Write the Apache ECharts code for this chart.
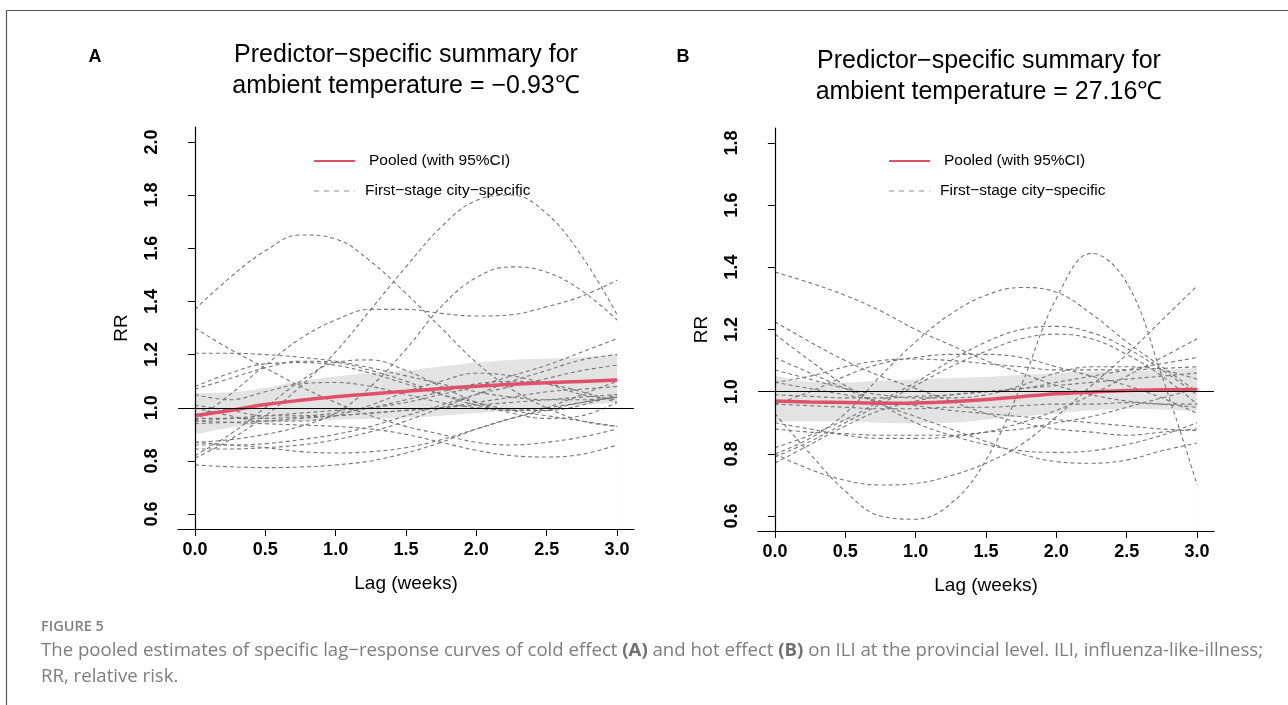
<!DOCTYPE html>
<html>
<head>
<meta charset="utf-8">
<script src="https://cdn.jsdelivr.net/npm/echarts@6/dist/echarts.min.js"></script>
<style>
html,body{margin:0;padding:0;background:#fff;}
#c{width:1288px;height:705px;}
</style>
</head>
<body>
<div id="c"></div>
<script>
// ---------- data ----------
const lags = [0, 0.25, 0.5, 0.75, 1, 1.25, 1.5, 1.75, 2, 2.25, 2.5, 2.75, 3];
const xTicks = [0, 0.5, 1, 1.5, 2, 2.5, 3];
const yTicksA = [0.6, 0.8, 1.0, 1.2, 1.4, 1.6, 1.8, 2.0];
const yTicksB = [0.6, 0.8, 1.0, 1.2, 1.4, 1.6, 1.8];

// Panel A (cold effect): pooled curve and 95% CI
const pooledA = [0.971, 0.99, 1.012, 1.028, 1.041, 1.052, 1.062, 1.072, 1.081, 1.088, 1.094, 1.099, 1.104];
const lowerA  = [0.900, 0.925, 0.942, 0.950, 0.955, 0.958, 0.962, 0.970, 0.980, 0.990, 1.000, 1.010, 1.020];
const upperA  = [1.055, 1.058, 1.075, 1.100, 1.118, 1.130, 1.140, 1.155, 1.170, 1.180, 1.185, 1.190, 1.200];

// Panel A first-stage city-specific curves
const a01 = [1.37, 1.49, 1.59, 1.65, 1.635, 1.55, 1.43, 1.30, 1.17, 1.07, 1.00, 0.95, 0.93];
const a02 = [0.81, 0.88, 0.97, 1.08, 1.21, 1.37, 1.53, 1.68, 1.78, 1.80, 1.73, 1.57, 1.35];
const a03 = [0.87, 0.88, 0.90, 0.93, 0.98, 1.08, 1.22, 1.38, 1.49, 1.53, 1.51, 1.44, 1.33];
const a04 = [0.95, 1.05, 1.16, 1.26, 1.33, 1.37, 1.37, 1.355, 1.345, 1.35, 1.38, 1.42, 1.48];
const a05 = [1.30, 1.22, 1.15, 1.08, 1.02, 0.97, 0.93, 0.90, 0.87, 0.86, 0.87, 0.89, 0.92];
const a06 = [1.205, 1.205, 1.20, 1.19, 1.175, 1.15, 1.12, 1.09, 1.06, 1.04, 1.03, 1.03, 1.04];
const a07 = [1.07, 1.11, 1.15, 1.175, 1.17, 1.14, 1.10, 1.05, 1.01, 0.99, 0.99, 1.01, 1.05];
const a08 = [1.08, 1.13, 1.165, 1.17, 1.16, 1.13, 1.09, 1.05, 1.02, 0.99, 0.97, 0.95, 0.93];
const a09 = [1.05, 1.03, 1.06, 1.09, 1.095, 1.08, 1.05, 1.02, 1.00, 0.99, 1.00, 1.02, 1.04];
const a10 = [0.95, 0.96, 0.97, 0.98, 0.99, 1.00, 1.02, 1.05, 1.08, 1.12, 1.16, 1.21, 1.26];
const a11 = [0.86, 0.86, 0.865, 0.88, 0.90, 0.93, 0.97, 1.01, 1.05, 1.08, 1.11, 1.14, 1.16];
const a12 = [0.845, 0.845, 0.85, 0.86, 0.88, 0.91, 0.95, 1.00, 1.05, 1.10, 1.14, 1.18, 1.20];
const a13 = [0.785, 0.778, 0.775, 0.777, 0.785, 0.80, 0.83, 0.87, 0.92, 0.96, 0.99, 1.02, 1.04];
const a14 = [0.82, 0.90, 1.00, 1.10, 1.17, 1.18, 1.14, 1.08, 1.02, 0.98, 0.96, 0.97, 1.02];
const a15 = [0.87, 0.86, 0.85, 0.835, 0.83, 0.835, 0.85, 0.88, 0.92, 0.96, 1.00, 1.05, 1.10];
const a16 = [0.95, 0.945, 0.94, 0.935, 0.93, 0.92, 0.90, 0.87, 0.84, 0.82, 0.815, 0.825, 0.86];
const a17 = [1.01, 0.99, 0.97, 0.97, 0.98, 1.00, 1.03, 1.06, 1.09, 1.10, 1.09, 1.06, 1.02];
const a18 = [0.96, 0.96, 0.96, 0.965, 0.97, 0.98, 0.99, 1.00, 1.01, 1.02, 1.03, 1.04, 1.05];
const a19 = [1.00, 0.97, 0.95, 0.95, 0.97, 1.01, 1.06, 1.10, 1.13, 1.12, 1.09, 1.05, 1.03];
const a20 = [0.94, 0.945, 0.95, 0.96, 0.97, 0.98, 0.99, 1.00, 1.02, 1.04, 1.06, 1.07, 1.08];
const citiesA = [a01, a02, a03, a04, a05, a06, a07, a08, a09, a10, a11, a12, a13, a14, a15, a16, a17, a18, a19, a20];

// Panel B (hot effect): pooled curve and 95% CI
const pooledB = [0.970, 0.967, 0.965, 0.963, 0.964, 0.968, 0.975, 0.984, 0.993, 0.999, 1.004, 1.006, 1.007];
const lowerB  = [0.903, 0.905, 0.905, 0.900, 0.898, 0.900, 0.910, 0.920, 0.930, 0.940, 0.945, 0.942, 0.938];
const upperB  = [1.052, 1.032, 1.030, 1.035, 1.040, 1.044, 1.048, 1.054, 1.060, 1.065, 1.066, 1.070, 1.076];

// Panel B first-stage city-specific curves
const b01 = [1.385, 1.35, 1.31, 1.26, 1.20, 1.15, 1.10, 1.06, 1.02, 0.99, 0.97, 0.96, 0.95];
const b02 = [0.93, 0.80, 0.68, 0.60, 0.59, 0.64, 0.78, 1.02, 1.30, 1.445, 1.35, 1.05, 0.70];
const b03 = [0.80, 0.75, 0.715, 0.70, 0.705, 0.73, 0.77, 0.83, 0.92, 1.02, 1.12, 1.23, 1.34];
const b04 = [0.80, 0.85, 0.93, 1.05, 1.16, 1.25, 1.31, 1.335, 1.32, 1.25, 1.16, 1.08, 1.00];
const b05 = [1.225, 1.16, 1.10, 1.05, 1.01, 0.97, 0.93, 0.90, 0.88, 0.87, 0.86, 0.87, 0.88];
const b06 = [1.185, 1.10, 1.02, 0.96, 0.90, 0.86, 0.83, 0.81, 0.805, 0.81, 0.83, 0.86, 0.90];
const b07 = [1.11, 1.06, 1.01, 0.96, 0.92, 0.88, 0.84, 0.80, 0.775, 0.77, 0.78, 0.81, 0.835];
const b08 = [1.07, 1.04, 1.01, 0.99, 0.98, 0.98, 0.99, 1.02, 1.06, 1.08, 1.08, 1.07, 1.04];
const b09 = [0.82, 0.86, 0.91, 0.97, 1.03, 1.10, 1.16, 1.20, 1.21, 1.19, 1.14, 1.07, 0.99];
const b10 = [0.79, 0.84, 0.90, 0.96, 1.02, 1.08, 1.13, 1.17, 1.185, 1.17, 1.12, 1.05, 0.96];
const b11 = [0.96, 1.00, 1.05, 1.09, 1.11, 1.12, 1.12, 1.11, 1.08, 1.05, 1.02, 0.98, 0.93];
const b12 = [1.03, 1.05, 1.08, 1.10, 1.105, 1.10, 1.09, 1.08, 1.07, 1.07, 1.07, 1.075, 1.08];
const b13 = [0.88, 0.87, 0.865, 0.86, 0.86, 0.86, 0.87, 0.88, 0.90, 0.92, 0.95, 0.98, 1.01];
const b14 = [0.90, 0.88, 0.86, 0.85, 0.85, 0.855, 0.87, 0.90, 0.94, 0.99, 1.05, 1.11, 1.17];
const b15 = [0.77, 0.83, 0.89, 0.94, 0.97, 0.99, 1.00, 1.01, 1.02, 1.03, 1.04, 1.05, 1.06];
const b16 = [1.03, 1.01, 0.99, 0.97, 0.955, 0.94, 0.93, 0.92, 0.91, 0.90, 0.89, 0.88, 0.875];
const b17 = [0.96, 0.955, 0.95, 0.945, 0.945, 0.95, 0.95, 0.955, 0.96, 0.96, 0.965, 0.96, 0.96];
const b18 = [0.99, 0.985, 0.98, 0.98, 0.985, 0.99, 1.00, 1.01, 1.03, 1.05, 1.07, 1.09, 1.11];
const citiesB = [b01, b02, b03, b04, b05, b06, b07, b08, b09, b10, b11, b12, b13, b14, b15, b16, b17, b18];

const pooledName = 'Pooled (with 95%CI)';
const cityName = 'First\u2212stage city\u2212specific';
const titleA = ['Predictor\u2212specific summary for', 'ambient temperature = \u22120.93\u2103'];
const titleB = ['Predictor\u2212specific summary for', 'ambient temperature = 27.16\u2103'];
const caption1a = 'The pooled estimates of specific lag\u2212response curves of cold effect ';
const caption1b = ' and hot effect ';
const caption1c = ' on ILI at the provincial level. ILI, influenza-like-illness;';
const caption2 = 'RR, relative risk.';

// ---------- build ----------
const pts = arr => lags.map((l, i) => [l, arr[i]]);
const FONT = '"Liberation Sans", Arial, Helvetica, sans-serif';
const CAPFONT = '"Open Sans", Lato, sans-serif';
const RED = '#e1506b';

function axes(idx, yMin, yMax, yTicks) {
  const xAxis = {
    type: 'value', gridIndex: idx, min: -0.12, max: 3.12, z: 10,
    name: 'Lag (weeks)', nameLocation: 'middle', nameGap: 45,
    nameTextStyle: { fontFamily: FONT, fontSize: 19, color: '#000' },
    axisLine: { show: true, lineStyle: { color: '#000', width: 1.2 } },
    axisTick: { show: true, length: 7, customValues: xTicks, lineStyle: { color: '#000' } },
    axisLabel: { customValues: xTicks, formatter: v => v.toFixed(1), margin: 12,
      fontFamily: FONT, fontSize: 18, fontWeight: 'bold', color: '#000' },
    splitLine: { show: false }
  };
  const yAxis = {
    type: 'value', gridIndex: idx, min: yMin, max: yMax, z: 10,
    name: 'RR', nameLocation: 'middle', nameGap: 47, nameRotate: 90,
    nameTextStyle: { fontFamily: FONT, fontSize: 19, color: '#000' },
    axisLine: { show: true, lineStyle: { color: '#000', width: 1.2 } },
    axisTick: { show: true, length: 7, customValues: yTicks, lineStyle: { color: '#000' } },
    axisLabel: { customValues: yTicks, formatter: v => v.toFixed(1), rotate: 90, margin: 17,
      fontFamily: FONT, fontSize: 18, fontWeight: 'bold', color: '#000' },
    splitLine: { show: false }
  };
  return [xAxis, yAxis];
}

function panelSeries(idx, pooled, lower, upper, cities) {
  const s = [];
  // 95% CI band: grey area under the upper bound, masked in white under the lower bound
  s.push({ type: 'line', name: 'ciUpper' + idx, xAxisIndex: idx, yAxisIndex: idx, data: pts(upper),
    smooth: 0.4, symbol: 'none', silent: true, z: 1, lineStyle: { width: 0, opacity: 0 },
    areaStyle: { color: '#e3e3e3', opacity: 1, origin: 'start' } });
  s.push({ type: 'line', name: 'ciLower' + idx, xAxisIndex: idx, yAxisIndex: idx, data: pts(lower),
    smooth: 0.4, symbol: 'none', silent: true, z: 1.5, lineStyle: { width: 0, opacity: 0 },
    areaStyle: { color: '#ffffff', opacity: 1, origin: 'start' } });
  cities.forEach(c => {
    s.push({ type: 'line', name: cityName, xAxisIndex: idx, yAxisIndex: idx, data: pts(c),
      smooth: 0.4, symbol: 'none', silent: true, z: 2,
      lineStyle: { color: '#767676', width: 1.1, type: [4, 3] } });
  });
  s.push({ type: 'line', name: pooledName, xAxisIndex: idx, yAxisIndex: idx, data: pts(pooled),
    smooth: 0.4, symbol: 'none', z: 4,
    lineStyle: { color: RED, width: 3.5 },
    markLine: { silent: true, symbol: 'none', label: { show: false },
      lineStyle: { color: '#000', type: 'solid', width: 1 }, data: [{ yAxis: 1 }] } });
  return s;
}

function legendGraphics(x0, yTop) {
  return [
    { type: 'line', shape: { x1: x0, y1: yTop, x2: x0 + 41, y2: yTop }, style: { stroke: RED, lineWidth: 1.8 } },
    { type: 'text', style: { text: pooledName, x: x0 + 55, y: yTop, verticalAlign: 'middle',
      font: '15.5px ' + FONT, fill: '#000' } },
    { type: 'line', shape: { x1: x0, y1: yTop + 30, x2: x0 + 41, y2: yTop + 30 },
      style: { stroke: '#a0a0a0', lineWidth: 1.2, lineDash: [5, 5] } },
    { type: 'text', style: { text: cityName, x: x0 + 51, y: yTop + 30, verticalAlign: 'middle',
      font: '15.5px ' + FONT, fill: '#000' } }
  ];
}

const [xA, yA] = axes(0, 0.544, 2.056, yTicksA);
const [xB, yB] = axes(1, 0.552, 1.848, yTicksB);

const titleText = (lines, cx, y1) => lines.map((t, i) => ({
  type: 'text', style: { text: t, x: cx, y: y1 + i * 31, align: 'center', verticalAlign: 'middle',
    font: '25px ' + FONT, fill: '#000' } }));

const option = {
  animation: false,
  grid: [
    { left: 178, top: 127, width: 456, height: 402 },
    { left: 758, top: 128, width: 456, height: 403 }
  ],
  xAxis: [xA, xB],
  yAxis: [yA, yB],
  series: panelSeries(0, pooledA, lowerA, upperA, citiesA).concat(panelSeries(1, pooledB, lowerB, upperB, citiesB)),
  graphic: [
    { type: 'line', shape: { x1: 6.5, y1: 10.5, x2: 1290, y2: 10.5 }, style: { stroke: '#555', lineWidth: 1.2 } },
    { type: 'line', shape: { x1: 6.5, y1: 10.5, x2: 6.5, y2: 710 }, style: { stroke: '#555', lineWidth: 1.2 } },
    { type: 'text', style: { text: 'A', x: 95, y: 57, align: 'center', verticalAlign: 'middle',
      font: 'bold 18px ' + FONT, fill: '#000' } },
    { type: 'text', style: { text: 'B', x: 683, y: 57, align: 'center', verticalAlign: 'middle',
      font: 'bold 18px ' + FONT, fill: '#000' } },
    ...titleText(titleA, 406, 55),
    ...titleText(titleB, 989, 61),
    ...legendGraphics(314, 161),
    ...legendGraphics(889, 161),
    { type: 'text', style: { text: 'FIGURE 5', x: 41, y: 627, verticalAlign: 'middle',
      font: '600 14.5px ' + CAPFONT, fill: '#808080' } },
    { type: 'text', style: {
      text: '{n|' + caption1a + '}{b|(A)}{n|' + caption1b + '}{b|(B)}{n|' + caption1c + '}',
      x: 41, y: 651, verticalAlign: 'middle',
      rich: {
        n: { fontFamily: CAPFONT, fontSize: 18.6, fill: '#7d7d7d' },
        b: { fontFamily: CAPFONT, fontSize: 18.6, fontWeight: 'bold', fill: '#707070' }
      } } },
    { type: 'text', style: { text: caption2, x: 41, y: 677, verticalAlign: 'middle',
      font: '18.6px ' + CAPFONT, fill: '#7d7d7d' } }
  ]
};

const chart = echarts.init(document.getElementById('c'), null, { renderer: 'canvas' });
chart.setOption(option);
</script>
</body>
</html>
